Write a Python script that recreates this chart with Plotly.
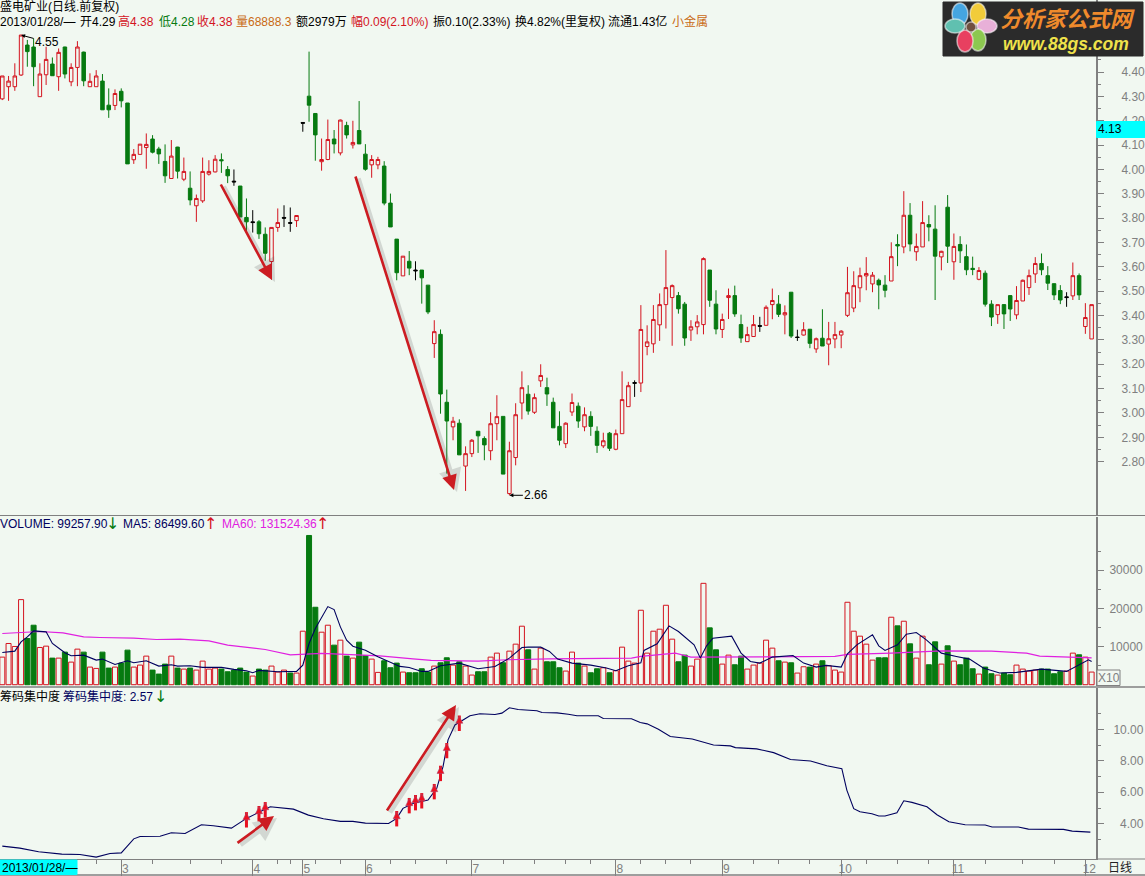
import plotly.graph_objects as go

# ---------- data ----------
opens = [4.290,4.340,4.340,4.388,4.511,4.503,4.299,4.389,4.433,4.381,
 4.503,4.360,4.419,4.482,4.340,4.340,4.363,4.264,4.263,4.321,
 4.273,4.040,4.062,4.090,4.125,4.084,4.033,3.963,4.092,3.960,
 3.923,3.851,3.871,3.981,3.990,4.040,4.000,3.952,3.932,3.803,
 3.785,3.785,3.734,3.622,3.762,3.803,3.782,3.790,4.193,4.301,
 4.230,4.032,4.041,4.125,4.068,4.181,4.101,4.160,4.063,4.019,
 4.019,4.014,3.862,3.714,3.563,3.623,3.587,3.587,3.525,3.285,
 3.323,3.044,2.943,2.958,2.782,2.833,2.925,2.895,2.845,2.956,
 2.986,2.669,2.817,3.041,3.077,3.003,3.132,3.104,3.044,2.945,
 2.874,3.004,3.028,2.943,2.986,2.925,2.865,2.917,2.851,2.915,
 3.026,3.125,3.123,3.273,3.284,3.362,3.445,3.474,3.482,3.447,
 3.341,3.354,3.363,3.587,3.447,3.343,3.474,3.482,3.363,3.293,
 3.314,3.359,3.360,3.445,3.447,3.403,3.496,3.312,3.320,3.344,
 3.263,3.307,3.283,3.304,3.320,3.401,3.431,3.514,3.563,3.530,
 3.545,3.525,3.542,3.692,3.682,3.812,3.662,3.682,3.774,3.755,
 3.641,3.845,3.621,3.692,3.642,3.594,3.549,3.574,3.447,3.404,
 3.445,3.482,3.403,3.460,3.515,3.571,3.614,3.564,3.531,3.503,
 3.477,3.481,3.564,3.355,3.304]
closes = [4.384,4.363,4.384,4.552,4.484,4.422,4.392,4.452,4.385,4.481,
 4.392,4.419,4.503,4.364,4.362,4.384,4.245,4.245,4.312,4.282,
 4.023,4.062,4.104,4.103,4.071,4.064,3.974,4.055,3.993,3.992,
 3.875,3.881,3.992,3.992,4.042,4.036,3.974,3.949,3.805,3.785,
 3.782,3.736,3.656,3.762,3.782,3.800,3.779,3.811,4.190,4.264,
 4.142,4.041,4.123,4.105,4.203,4.142,4.111,4.105,4.001,4.041,
 4.041,3.862,3.764,3.576,3.644,3.595,3.584,3.555,3.415,3.334,
 3.078,2.967,2.966,2.828,2.833,2.888,2.906,2.869,2.956,2.985,
 2.749,2.845,2.993,3.104,3.008,3.063,3.154,3.078,2.939,2.888,
 2.958,3.043,2.967,2.993,2.945,2.867,2.886,2.855,2.915,3.055,
 3.112,3.122,3.343,3.292,3.384,3.445,3.515,3.523,3.428,3.308,
 3.354,3.374,3.634,3.463,3.345,3.384,3.482,3.407,3.308,3.322,
 3.363,3.356,3.434,3.462,3.405,3.412,3.316,3.310,3.342,3.286,
 3.305,3.275,3.305,3.322,3.336,3.494,3.523,3.564,3.573,3.566,
 3.526,3.504,3.642,3.686,3.812,3.694,3.684,3.782,3.764,3.644,
 3.664,3.685,3.684,3.666,3.588,3.589,3.585,3.447,3.394,3.445,
 3.407,3.427,3.462,3.545,3.564,3.614,3.588,3.533,3.485,3.464,
 3.474,3.564,3.485,3.392,3.445]
highs = [4.384,4.384,4.436,4.552,4.532,4.538,4.436,4.504,4.460,4.497,
 4.504,4.436,4.527,4.484,4.395,4.408,4.392,4.333,4.329,4.333,
 4.273,4.084,4.104,4.148,4.141,4.093,4.103,4.121,4.093,4.049,
 3.992,3.897,4.049,4.038,4.059,4.066,4.014,4.000,3.932,3.881,
 3.833,3.792,3.762,3.762,3.840,3.853,3.844,3.812,4.193,4.484,
 4.230,4.127,4.205,4.162,4.205,4.196,4.200,4.281,4.104,4.059,
 4.052,4.034,3.901,3.714,3.644,3.665,3.623,3.587,3.525,3.381,
 3.343,3.096,2.984,2.974,2.863,2.893,2.925,2.904,3.003,3.073,
 2.986,2.882,3.040,3.171,3.114,3.080,3.200,3.145,3.063,3.007,
 2.962,3.080,3.043,3.023,3.007,2.945,2.919,2.922,2.932,3.171,
 3.128,3.134,3.443,3.360,3.443,3.491,3.669,3.528,3.497,3.456,
 3.381,3.402,3.639,3.587,3.504,3.408,3.511,3.523,3.404,3.354,
 3.402,3.395,3.442,3.511,3.484,3.442,3.496,3.342,3.373,3.344,
 3.310,3.426,3.374,3.374,3.340,3.600,3.582,3.597,3.640,3.579,
 3.552,3.566,3.701,3.734,3.911,3.862,3.737,3.870,3.812,3.853,
 3.666,3.895,3.737,3.726,3.692,3.642,3.599,3.585,3.463,3.445,
 3.445,3.484,3.521,3.548,3.589,3.640,3.655,3.603,3.531,3.525,
 3.496,3.618,3.573,3.451,3.445]
lows = [4.285,4.282,4.323,4.384,4.422,4.342,4.299,4.347,4.385,4.323,
 4.374,4.342,4.342,4.342,4.340,4.340,4.245,4.212,4.244,4.255,
 4.023,4.023,4.062,4.003,4.066,4.023,3.945,3.963,3.963,3.952,
 3.853,3.785,3.863,3.975,3.988,3.986,3.944,3.933,3.805,3.744,
 3.741,3.715,3.625,3.548,3.744,3.764,3.744,3.764,4.155,4.196,
 4.036,3.995,4.038,4.066,4.058,4.127,4.086,4.105,3.995,3.966,
 4.001,3.853,3.764,3.545,3.563,3.566,3.545,3.449,3.406,3.226,
 2.997,2.751,2.888,2.828,2.680,2.819,2.836,2.806,2.806,2.888,
 2.749,2.662,2.785,2.974,2.993,2.996,3.107,3.029,2.939,2.867,
 2.856,2.988,2.939,2.925,2.906,2.836,2.856,2.844,2.847,2.915,
 3.026,3.066,3.086,3.237,3.247,3.296,3.347,3.276,3.408,3.276,
 3.296,3.323,3.323,3.436,3.323,3.308,3.386,3.395,3.288,3.293,
 3.314,3.333,3.360,3.385,3.394,3.323,3.308,3.296,3.318,3.266,
 3.247,3.275,3.196,3.266,3.266,3.394,3.414,3.455,3.504,3.496,
 3.426,3.475,3.542,3.603,3.656,3.664,3.625,3.682,3.705,3.464,
 3.586,3.616,3.547,3.616,3.566,3.566,3.545,3.437,3.357,3.366,
 3.345,3.378,3.385,3.460,3.485,3.534,3.566,3.505,3.464,3.447,
 3.436,3.464,3.464,3.325,3.304]
doji_days = [37, 40, 45, 46, 48, 66, 101, 121, 127, 170]

volumes = [7221,10788,10005,22272,12093,15573,9744,10092,6960,6960,
 8526,5916,9309,8526,4611,4263,8526,4350,4611,5655,
 9048,4611,5133,7482,3828,2784,5394,7482,4350,4089,
 4350,3828,6177,4089,4350,4089,3393,3828,4350,3306,
 2262,4089,3828,4872,3306,3828,3045,3045,14007,39063,
 20271,13746,15573,10353,11658,7482,6960,11136,7656,6699,
 3219,6264,4437,5655,3306,3132,3132,4176,3306,4872,
 5742,7047,5133,6003,4872,2523,3393,3393,7221,8265,
 5742,8787,10614,15312,9135,4089,9570,6003,6003,4437,
 3567,8526,5655,4872,3132,4176,4437,3132,3654,9831,
 6177,5655,19488,8265,14007,14529,20793,11919,6003,7743,
 4872,6699,26535,14877,9135,5394,7743,5220,7482,4089,
 5133,5655,11658,9570,6264,5916,5742,3045,4698,4611,
 5394,6264,4959,3828,3306,21576,14007,12702,10614,6438,
 7047,7047,17661,15399,16617,10701,6960,12702,5220,11223,
 5394,10179,6177,5220,6960,4176,2784,4611,2871,2523,
 3045,2610,5133,4089,3567,3828,4089,4089,2871,3393,
 3567,8265,7830,7221,3306]
volume_side = ("rrrrggrrgr" "grrgrrggrg" "grrrgggrgr" "grrrrggggg" "rggrrrgrrg"
               "grrgrgrggr" "rgggrggggr" "ggrgrrggrr" "grrrgrrggg" "rrgrggrgrr"
               "rrrrrrrrgg" "rrrggrrggr" "rrrrgrgrrg" "rgrrrrrrrr" "ggrgrgrrgg"
               "rgrgggrggr" "ggrrrrgggg" "rrgrr")

ma5_days = [0,2,3,4,5,7,8,10,11,13,15,16,18,20,21,23,25,27,28,30,32,35,37,39,40,41,44,47,48,49,
 50,51,52,53,54,55,56,58,60,63.5,65,67,68,70,73,76,78.7,81,83,84,86,87.4,88.7,91,94,96.5,98,
 100,102,102.5,104.6,106.5,108,110.5,111.5,112.5,113.5,116.5,118,119.5,121,123,126.3,128,130,
 131.6,134,135,136.5,139,140,141,143,144.4,146,147.6,150,152.4,154.5,156.7,159.3,162,166,170,173.5,174]
ma5_values = [8439,8787,11223,12528,14094,13833,10788,8352,7569,7743,6438,6699,5307,6264,5742,6264,4872,
 5220,4872,4959,4524,4524,4002,3654,3132,3741,3393,3480,5133,10788,14703,17748,20445,19662,15138,11658,
 10092,9048,7308,4785,4524,3480,3480,4959,5655,4176,4785,6960,9744,9831,9831,8700,6699,5655,5133,4350,
 3654,4959,5742,8961,10701,15399,13920,10440,6960,10179,12180,12702,8265,6090,5655,7221,7656,5655,4611,
 5046,4611,8091,10440,13050,10179,8961,10440,13224,13659,11745,8265,7395,6699,4350,3045,3219,4089,3480,6525,6090]
ma60_days = [0,6,9.7,13,15.6,21,24.6,28.4,33,36,42,46,51,60.3,65.6,68.5,76,80.7,87.3,100.5,102,107.5,110,
 121,133,135,142,150,158,163.6,165.7,174]
ma60_values = [13398,13920,13572,12528,12354,12180,11832,11919,11484,10353,9222,7830,8178,7569,6786,6351,
 6177,6525,6786,6960,7395,8265,7221,7221,7395,7917,8265,8874,8787,8265,7482,7047]

chip_days = [0,2.8,5.8,9.5,12.4,15,17.2,19,21,22,25.2,27,29.2,31.8,33.7,36.6,39,42.2,42.8,46.5,48.9,51.3,
 54,56,58,61.7,63,64,65.7,68,69.4,70.4,71.2,72.3,74.7,76.3,78.7,79.8,81,82.4,85.4,86.2,88.6,90.4,91.8,
 95.2,96,100.5,101.9,103,104.8,106.7,110.2,113.6,116.3,117.1,120.5,123.2,125.9,129.1,131.7,134.1,134.9,
 136,137,138.9,140,141,142.9,144,145.3,147.7,149.3,151.2,153.8,157,158.1,162.3,163.9,169.5,170.9,173.8]
chip_values = [2.58,2.45,2.22,2.07,2.05,1.88,2.11,2.15,3.04,3.19,3.21,3.43,3.38,3.94,3.87,3.72,4.34,5.0,5.08,
 4.93,4.55,4.32,4.15,4.15,4.04,4.02,4.34,4.98,5.30,5.51,6.25,7.63,9.33,10.28,10.86,10.99,10.94,11.03,11.37,
 11.26,11.18,11.07,11.05,10.96,10.86,10.86,10.69,10.67,10.43,10.35,10.01,9.54,9.39,9.01,8.95,8.84,8.76,
 8.52,8.08,7.99,7.69,7.50,6.14,4.96,4.76,4.64,4.49,4.49,4.70,5.46,5.36,5.08,4.57,4.13,3.94,3.92,3.79,3.79,
 3.66,3.64,3.53,3.47]
signal_days = [39, 41, 42, 63, 65, 66, 67, 69, 70, 71, 73]
signal_values = [4.25, 4.64, 4.89, 4.32, 5.15, 5.34, 5.46, 6.04, 7.2, 8.65, 10.39]

month_days = [19, 40, 48, 58, 75, 98, 115, 134, 152, 173]
month_labels = ["3", "4", "5", "6", "7", "8", "9", "10", "11", "12"]
week_days = [15,24,30,35,44,46,50,54,62,66,71,80,85,90,94,102,106,110,120,124,129,138,143,148,157,163,168]

price_ticks = [2.8,2.9,3.0,3.1,3.2,3.3,3.4,3.5,3.6,3.7,3.8,3.9,4.0,4.1,4.2,4.3,4.4]
price_minor = [2.85,2.95,3.05,3.15,3.25,3.35,3.45,3.55,3.65,3.75,3.85,3.95,4.05,4.15,4.25,4.35,4.45]
volume_ticks = [10000, 20000, 30000]
volume_minor = [5000, 15000, 25000, 35000]
chip_ticks = [4, 6, 8, 10]
chip_tick_labels = ["\u00a0\u00a04.00", "\u00a0\u00a06.00", "\u00a0\u00a08.00", "10.00"]
chip_minor = [3, 5, 7, 9, 11]

# ---------- styles ----------
W, H = 1145, 876
BG = "#f1f8f1"
RED = "#d4141f"
GREEN = "#067a10"
NAVY = "#00005e"
MAGENTA = "#e020e0"
GRAY = "#808080"
FONT = "Liberation Sans, Noto Sans CJK SC, sans-serif"
def px(x): return x / W
def py(y): return 1 - y / H

days = list(range(len(opens)))
is_doji = set(doji_days)
normal = [d for d in days if d not in is_doji]

fig = go.Figure()
def pick(a, idx): return [a[i] for i in idx]
fig.add_trace(go.Candlestick(
    x=normal, open=pick(opens, normal), high=pick(highs, normal), low=pick(lows, normal), close=pick(closes, normal),
    increasing=dict(line=dict(color=RED, width=1), fillcolor=BG),
    decreasing=dict(line=dict(color=GREEN, width=1), fillcolor=GREEN),
    whiskerwidth=0, xaxis="x", yaxis="y"))
fig.add_trace(go.Candlestick(
    x=doji_days, open=pick(opens, doji_days), high=pick(highs, doji_days), low=pick(lows, doji_days), close=pick(closes, doji_days),
    increasing=dict(line=dict(color="#000000", width=1), fillcolor="#000000"),
    decreasing=dict(line=dict(color="#000000", width=1), fillcolor="#000000"),
    whiskerwidth=0, xaxis="x", yaxis="y"))

bar_fill = [BG if s == "r" else GREEN for s in volume_side]
bar_line = [RED if s == "r" else GREEN for s in volume_side]
fig.add_trace(go.Bar(x=days, y=volumes, marker=dict(color=bar_fill, line=dict(color=bar_line, width=1)),
                     xaxis="x2", yaxis="y2"))
fig.add_trace(go.Scatter(x=ma60_days, y=ma60_values, mode="lines", line=dict(color=MAGENTA, width=1.2), xaxis="x2", yaxis="y2"))
fig.add_trace(go.Scatter(x=ma5_days, y=ma5_values, mode="lines", line=dict(color=NAVY, width=1.1), xaxis="x2", yaxis="y2"))

fig.add_trace(go.Scatter(x=chip_days, y=chip_values, mode="lines", line=dict(color=NAVY, width=1.1), xaxis="x3", yaxis="y3"))
# small red arrows: a stem marker plus a head marker on each signal day
fig.add_trace(go.Scatter(x=signal_days, y=signal_values, mode="markers",
                         marker=dict(symbol="line-ns", size=11, line=dict(color="#e81020", width=3)),
                         xaxis="x3", yaxis="y3"))
fig.add_trace(go.Scatter(x=signal_days, y=signal_values, mode="markers",
                         marker=dict(symbol="arrow-down", size=7, angle=180, standoff=7, color="#ee1020",
                                     line=dict(color="rgba(170,70,110,0.6)", width=1)),
                         xaxis="x3", yaxis="y3"))

x_range = [-0.367, 174.7]
x_dom = [0, 1096 / W]
def y_axis(tickvals, minor, ticktext=None, fmt=None, dom=None, rng=None, standoff=0):
    d = dict(domain=dom, range=rng, side="right", showgrid=False, zeroline=False, showline=True, automargin=False,
             linecolor=GRAY, linewidth=2, ticks="outside", ticklen=6, tickcolor=GRAY, tickwidth=1,
             tickmode="array", tickvals=tickvals, tickfont=dict(family=FONT, size=12, color=GRAY),
             ticklabelstandoff=standoff,
             minor=dict(tickmode="array", tickvals=minor, ticks="outside", ticklen=3, tickcolor=GRAY, showgrid=False))
    if ticktext: d["ticktext"] = ticktext
    if fmt: d["tickformat"] = fmt
    return d

fig.update_layout(
    width=W, height=H, autosize=False, margin=dict(l=0, r=0, t=0, b=0),
    paper_bgcolor=BG, plot_bgcolor=BG, showlegend=False, hovermode=False, dragmode=False,
    boxgap=0.2, bargap=0.2,
    xaxis=dict(domain=x_dom, range=x_range, anchor="y", visible=False, automargin=False, rangeslider=dict(visible=False)),
    xaxis2=dict(domain=x_dom, range=x_range, anchor="y2", visible=False, automargin=False),
    xaxis3=dict(domain=x_dom, range=x_range, anchor="y3", showgrid=False, zeroline=False, showline=True, automargin=False,
                linecolor=GRAY, linewidth=1, ticks="outside", ticklen=16, tickcolor=GRAY, tickwidth=1,
                tickmode="array", tickvals=month_days, ticktext=month_labels,
                tickfont=dict(family=FONT, size=12, color=GRAY), ticklabelshift=4, ticklabelstandoff=-17,
                minor=dict(tickmode="array", tickvals=week_days, ticks="outside", ticklen=4, tickcolor=GRAY, showgrid=False)),
    yaxis=y_axis(price_ticks, price_minor, fmt=".2f", dom=[py(515.5), 1], rng=[2.579, 4.696], standoff=15),
    yaxis2=y_axis(volume_ticks, volume_minor, fmt="d", dom=[py(686), py(516.5)], rng=[-340, 44030], standoff=3),
    yaxis3=y_axis(chip_ticks, chip_minor, ticktext=chip_tick_labels, dom=[py(859), py(687.5)], rng=[1.76, 12.66], standoff=7),
)

shapes = []
def line(x0, y0, x1, y1, color=GRAY, width=1):
    shapes.append(dict(type="line", xref="paper", yref="paper", x0=px(x0), y0=py(y0), x1=px(x1), y1=py(y1),
                       line=dict(color=color, width=width), layer="above"))
def rect(x0, y0, x1, y1, fill, color=None):
    shapes.append(dict(type="rect", xref="paper", yref="paper", x0=px(x0), y0=py(y0), x1=px(x1), y1=py(y1),
                       fillcolor=fill, line=dict(color=color or fill, width=1), layer="above"))
def blob(cx, cy, rx, ry, fill):
    shapes.append(dict(type="circle", xref="paper", yref="paper", x0=px(cx-rx), y0=py(cy-ry), x1=px(cx+rx), y1=py(cy+ry),
                       fillcolor=fill, line=dict(color="rgba(255,255,255,0.55)", width=1.5), layer="above"))

line(0, 515.5, W, 515.5)
line(0, 687, W, 687, width=1.5)
line(0, 875, W, 875, width=1.5)
line(1096, 859, W, 859)
rect(0, 860, 77, 874.5, "#00ffff")
rect(1096.5, 121.5, W, 137.5, "#00ffff")
rect(1097, 670, 1120, 685.5, BG, GRAY)
rect(943, 2, 1143, 56, "#2b2b2b")
for cx, cy, rx, ry, c in [(960, 14, 8, 11, "#45a5e0"), (978, 14, 8, 11, "#f2cc3a"), (987, 26, 10, 7, "#e8b0d8"),
                          (978, 40, 8, 11, "#8cc850"), (965, 41, 8, 11, "#e84060"), (955, 26, 10, 7, "#60c0b0"),
                          (971, 27, 5, 5, "#705040")]:
    blob(cx, cy, rx, ry, c)
fig.update_layout(shapes=shapes)

notes = []
def txt(x, y, s, color="#000000", size=12, bold=False, italic=False, anchor="left", family=FONT):
    t = s
    if bold: t = f"<b>{t}</b>"
    if italic: t = f"<i>{t}</i>"
    notes.append(dict(xref="paper", yref="paper", x=px(x), y=py(y), text=t, showarrow=False, xanchor=anchor, yanchor="middle",
                      font=dict(family=family, size=size, color=color), borderpad=0, borderwidth=0))

def arrow(x0, y0, x1, y1, color="#cc1c22", w=2.6):
    notes.append(dict(xref="paper", yref="paper", x=px(x1+3), y=py(y1+2), ax=x0-x1, ay=y0-y1, text="", showarrow=True,
                      arrowcolor="rgba(90,90,90,0.2)", arrowwidth=w+2, arrowhead=2, arrowsize=1))
    notes.append(dict(xref="paper", yref="paper", x=px(x1), y=py(y1), ax=x0-x1, ay=y0-y1, text="", showarrow=True,
                      arrowcolor=color, arrowwidth=w, arrowhead=2, arrowsize=1.15))

txt(0, 7, "盛电矿业(日线.前复权)")
ORANGE = "#c96a14"
for x, s, c in [(0, "2013/01/28/—", "#000"), (80, "开4.29", "#000"), (118, "高4.38", RED), (159, "低4.28", GREEN),
                (197, "收4.38", RED), (236, "量68888.3", ORANGE), (296, "额2979万", "#000"), (351, "幅0.09(2.10%)", RED),
                (433, "振0.10(2.33%)", "#000"), (515, "换4.82%(里复权)", "#000"), (608, "流通1.43亿", "#000"), (672, "小金属", ORANGE)]:
    txt(x, 21.5, s, c)

for x, s, c in [(0, "VOLUME: 99257.90", NAVY), (123, "MA5: 86499.60", NAVY), (222, "MA60: 131524.36", MAGENTA)]:
    txt(x, 523.5, s, c)
ARROWFONT = "DejaVu Sans"
for x, s, c in [(106, "↓", GREEN), (204, "↑", RED), (316, "↑", RED)]:
    txt(x, 523, s, c, size=16, family=ARROWFONT)
txt(0, 696.5, "筹码集中度")
txt(63, 696.5, "筹码集中度: 2.57", NAVY)
txt(154, 696, "↓", GREEN, size=16, family=ARROWFONT)
txt(1.5, 867.5, "2013/01/28/—")
txt(1108, 867.5, "日线", "#222222", size=12)
txt(1098, 677.5, "X10", GRAY)
txt(1097.5, 129, "4.13", "#000")
txt(1000, 20, "分析家公式网", "#ef8a2c", size=22, bold=True, italic=True)
txt(1003, 44, "www.88gs.com", "#efe24a", size=17.5, bold=True, italic=True)

notes.append(dict(xref="x", yref="y", x=3, y=4.552, ax=26, ay=7, text="4.55", showarrow=True, arrowhead=2, arrowsize=0.8,
                  arrowwidth=1, arrowcolor="#000", xanchor="center", font=dict(family=FONT, size=12, color="#000")))
notes.append(dict(xref="x", yref="y", x=81, y=2.662, ax=27, ay=0, text="2.66", showarrow=True, arrowhead=2, arrowsize=0.8,
                  arrowwidth=1, arrowcolor="#000", xanchor="center", font=dict(family=FONT, size=12, color="#000")))

arrow(220, 183, 272, 280)
arrow(355, 175, 454, 490)
arrow(236, 844, 274, 816)
arrow(386, 812, 456, 705)
fig.update_layout(annotations=notes)

fig.write_html("out.html", config=dict(displayModeBar=False, staticPlot=True),
               post_script="document.body.style.margin='0';document.body.style.overflow='hidden';")
